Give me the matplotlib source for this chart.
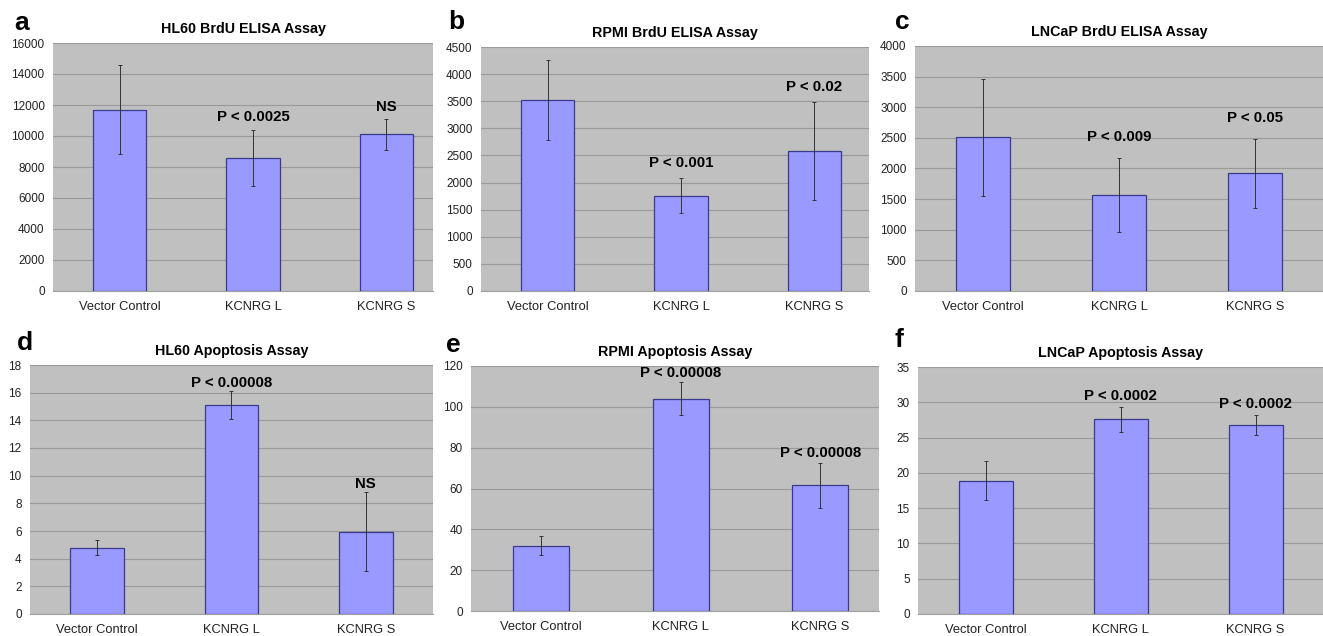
import numpy as np
import matplotlib
matplotlib.use("Agg")
import matplotlib.pyplot as plt

plt.rcParams["font.family"] = ["Liberation Sans", "DejaVu Sans"]

groups = ["Vector Control", "KCNRG L", "KCNRG S"]

titles = ["HL60 BrdU ELISA Assay", "RPMI BrdU ELISA Assay", "LNCaP BrdU ELISA Assay",
          "HL60 Apoptosis Assay", "RPMI Apoptosis Assay", "LNCaP Apoptosis Assay"]
letters = ["a", "b", "c", "d", "e", "f"]

hl60_brdu = [11700, 8600, 10100]
hl60_brdu_err = [2850, 1800, 980]
rpmi_brdu = [3520, 1760, 2580]
rpmi_brdu_err = [740, 315, 900]
lncap_brdu = [2510, 1570, 1920]
lncap_brdu_err = [955, 605, 560]
hl60_apop = [4.8, 15.1, 5.95]
hl60_apop_err = [0.57, 1.02, 2.85]
rpmi_apop = [32, 104, 61.5]
rpmi_apop_err = [4.7, 8, 11]
lncap_apop = [18.9, 27.6, 26.8]
lncap_apop_err = [2.8, 1.75, 1.4]

pvals = [[None, "P < 0.0025", "NS"],
         [None, "P < 0.001", "P < 0.02"],
         [None, "P < 0.009", "P < 0.05"],
         [None, "P < 0.00008", "NS"],
         [None, "P < 0.00008", "P < 0.00008"],
         [None, "P < 0.0002", "P < 0.0002"]]

yticks = [np.arange(0, 16001, 2000), np.arange(0, 4501, 500), np.arange(0, 4001, 500),
          np.arange(0, 19, 2), np.arange(0, 121, 20), np.arange(0, 36, 5)]

values = [hl60_brdu, rpmi_brdu, lncap_brdu, hl60_apop, rpmi_apop, lncap_apop]
errors = [hl60_brdu_err, rpmi_brdu_err, lncap_brdu_err, hl60_apop_err, rpmi_apop_err, lncap_apop_err]

# pixel boxes of plot areas: left, top, right, bottom, x right limit
W, H = 1323, 636
boxes = [(53, 43, 433, 291, 2.35), (481, 47, 869, 291, 2.41), (915, 46, 1323, 291, 2.5),
         (30, 365, 433, 614, 2.5), (471, 366, 879, 611, 2.42), (918, 367, 1323, 614, 2.5)]
letter_pos = [(22, 23), (456, 22), (902, 22), (25, 343), (453, 345), (899, 340)]
off = [4, 6, 10, 1, 2, 3]

fig = plt.figure(figsize=(W / 100, H / 100), dpi=100)
x = np.arange(len(groups))

for i in range(6):
    l, t, r, b, xr = boxes[i]
    ax = fig.add_axes([l / W, 1 - b / H, (r - l) / W, (b - t) / H])
    ax.set_facecolor("#c0c0c0")
    ax.bar(x, values[i], width=0.4, color="#9999ff", edgecolor="#3a3a8c", linewidth=0.9, zorder=3)
    ax.errorbar(x, values[i], yerr=errors[i], fmt="none", ecolor="#333333",
                elinewidth=0.7, capsize=1.2, capthick=0.7, zorder=4)
    ax.set_xlim(-0.5, xr)
    ax.set_ylim(yticks[i][0], yticks[i][-1])
    ax.set_yticks(yticks[i])
    ax.set_xticks(x)
    ax.set_xticklabels(groups)
    ax.grid(axis="y", color="#9a9a9a", linewidth=0.8, zorder=0)
    ax.set_axisbelow(True)
    for s in ["top", "right", "left"]:
        ax.spines[s].set_visible(False)
    ax.spines["bottom"].set_color("#a0a0a0")
    ax.tick_params(length=0, labelcolor="#222222")
    ax.tick_params(axis="x", pad=7, labelsize=9.3)
    ax.tick_params(axis="y", pad=6, labelsize=8.5)
    ax.set_title(titles[i], fontsize=10.3, fontweight="bold", pad=7)
    for j in range(3):
        if pvals[i][j]:
            ax.annotate(pvals[i][j], (x[j], values[i][j] + errors[i][j]),
                        xytext=(0, off[i]), textcoords="offset points",
                        ha="center", va="bottom", fontsize=10.8, fontweight="bold")
    lx, ly = letter_pos[i]
    fig.text(lx / W, 1 - ly / H, letters[i], fontsize=19, fontweight="bold",
             ha="center", va="center")

fig.savefig("out.png", dpi=100, facecolor="white")
